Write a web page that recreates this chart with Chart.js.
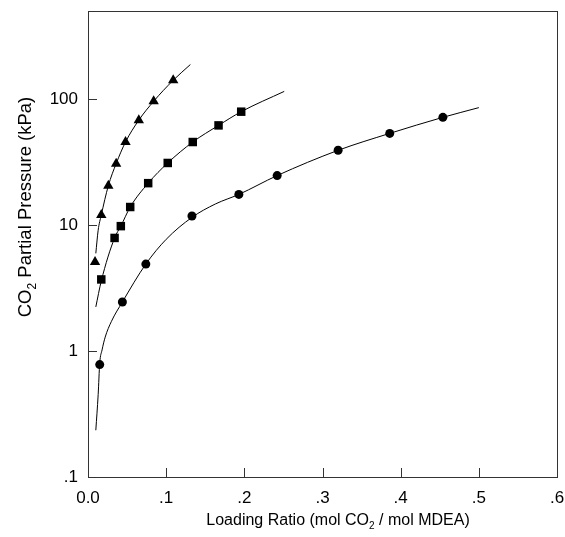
<!DOCTYPE html>
<html>
<head>
<meta charset="utf-8">
<script src="https://cdn.jsdelivr.net/npm/chart.js@4/dist/chart.umd.min.js"></script>
<style>
  html, body { margin: 0; padding: 0; background: #fff; }
  #wrap { width: 565px; height: 537px; }
</style>
</head>
<body>
<div id="wrap"><canvas id="vleChart"></canvas></div>
<script>
// Measured points (loading ratio, kPa)
const triX = [0.009, 0.017, 0.026, 0.036, 0.048, 0.065, 0.084, 0.109];
const triY = [5.1, 12.0, 20.5, 30.7, 45.6, 68, 96, 141];

const sqX = [0.017, 0.034, 0.042, 0.054, 0.077, 0.102, 0.134, 0.167, 0.196];
const sqY = [3.7, 7.9, 9.8, 13.9, 21.5, 31.1, 45.6, 61.8, 79.4];

const cirX = [0.015, 0.044, 0.074, 0.133, 0.193, 0.242, 0.320, 0.386, 0.454];
const cirY = [0.78, 2.45, 4.9, 11.8, 17.5, 24.7, 39.2, 53.4, 71.6];

// Fitted curves
const triFitX = [0.010, 0.013, 0.017, 0.026, 0.036, 0.048, 0.065, 0.084, 0.109, 0.131];
const triFitY = [5.96, 9.1, 12.0, 20.5, 30.7, 45.6, 68, 96, 141, 188];

const sqFitX = [0.010, 0.017, 0.034, 0.042, 0.054, 0.077, 0.102, 0.134, 0.167, 0.196, 0.251];
const sqFitY = [2.24, 3.6, 7.9, 9.8, 13.9, 21.5, 31.1, 45.6, 61.8, 79.4, 115];

const cirFitX = [0.010, 0.013, 0.015, 0.018, 0.022, 0.030, 0.044, 0.074, 0.100, 0.133, 0.163, 0.193, 0.242, 0.320, 0.386, 0.454, 0.500];
const cirFitY = [0.235, 0.45, 0.80, 1.02, 1.29, 1.72, 2.45, 4.9, 7.7, 11.5, 14.7, 17.5, 24.7, 39.2, 53.4, 71.6, 85.5];

// Axis ticks
const xTicks = [0, 0.1, 0.2, 0.3, 0.4, 0.5, 0.6];
const yTicks = [0.1, 1, 10, 100];

const FONT = '"Liberation Sans", Arial, sans-serif';
const INK = '#333';

function toPoints(xs, ys) {
    return xs.map((x, i) => ({ x: x, y: ys[i] }));
}

function fitLine(xs, ys) {
    return {
        data: toPoints(xs, ys),
        showLine: true,
        borderColor: '#000',
        borderWidth: 1,
        pointRadius: 0,
        cubicInterpolationMode: 'monotone'
    };
}

function markers(xs, ys, style, r) {
    return {
        data: toPoints(xs, ys),
        showLine: false,
        pointStyle: style,
        pointRadius: r,
        backgroundColor: '#000',
        borderColor: '#000',
        borderWidth: 0
    };
}

// draw text with a subscript "2" after CO
function drawSubText(ctx, size, before, sub, after, cx, baseline) {
    const big = size + 'px ' + FONT;
    const small = Math.round(size * 0.65) + 'px ' + FONT;
    ctx.font = big;
    const w1 = ctx.measureText(before).width;
    const w3 = ctx.measureText(after).width;
    ctx.font = small;
    const w2 = ctx.measureText(sub).width;
    let x = cx - (w1 + w2 + w3) / 2;
    ctx.textAlign = 'left';
    ctx.textBaseline = 'alphabetic';
    ctx.font = big;
    ctx.fillText(before, x, baseline);
    x += w1;
    ctx.font = small;
    ctx.fillText(sub, x, baseline + size * 0.25);
    x += w2;
    ctx.font = big;
    ctx.fillText(after, x, baseline);
}

// Frame, inward ticks and axis titles
const framePlugin = {
    id: 'frame',
    afterDraw(chart) {
        const ctx = chart.ctx;
        const a = chart.chartArea;
        const xs = chart.scales.x;
        const ys = chart.scales.y;
        ctx.save();
        ctx.strokeStyle = INK;
        ctx.lineWidth = 1;
        ctx.strokeRect(a.left + 0.5, a.top + 0.5, a.right - a.left, a.bottom - a.top);

        ctx.beginPath();
        xTicks.forEach(v => {
            const px = Math.round(xs.getPixelForValue(v)) + 0.5;
            ctx.moveTo(px, a.bottom);
            ctx.lineTo(px, a.bottom - 9);
        });
        yTicks.forEach(v => {
            const py = Math.round(ys.getPixelForValue(v)) + 0.5;
            ctx.moveTo(a.left, py);
            ctx.lineTo(a.left + 9, py);
        });
        ctx.stroke();

        ctx.fillStyle = '#000';
        drawSubText(ctx, 16, 'Loading Ratio (mol CO', '2', ' / mol MDEA)', 338, 525);

        ctx.translate(31, 207);
        ctx.rotate(-Math.PI / 2);
        drawSubText(ctx, 18.5, 'CO', '2', ' Partial Pressure (kPa)', 0, 0);
        ctx.restore();
    }
};

const ctx = document.getElementById('vleChart').getContext('2d');

new Chart(ctx, {
    type: 'scatter',
    data: {
        datasets: [
            fitLine(triFitX, triFitY),
            fitLine(sqFitX, sqFitY),
            fitLine(cirFitX, cirFitY),
            markers(triX, triY, 'triangle', 6),
            markers(sqX, sqY, 'rect', 6),
            markers(cirX, cirY, 'circle', 4.5)
        ]
    },
    options: {
        responsive: true,
        maintainAspectRatio: false,
        animation: false,
        layout: { padding: { top: 11, right: 8, left: 0, bottom: 0 } },
        plugins: {
            legend: { display: false },
            tooltip: { enabled: false }
        },
        scales: {
            x: {
                type: 'linear',
                min: 0,
                max: 0.6,
                afterBuildTicks: s => { s.ticks = xTicks.map(v => ({ value: v })); },
                afterFit: s => {
                    s.height = 60;
                    s.paddingLeft = 0;
                    s.paddingRight = 0;
                },
                grid: { display: false, drawTicks: false },
                border: { display: false },
                ticks: {
                    color: '#000',
                    padding: 11,
                    maxRotation: 0,
                    font: { size: 17, family: FONT },
                    callback: v => v === 0 ? '0.0' : '.' + Math.round(v * 10)
                }
            },
            y: {
                type: 'logarithmic',
                min: 0.1,
                max: 500,
                afterBuildTicks: s => { s.ticks = yTicks.map(v => ({ value: v })); },
                afterFit: s => {
                    s.width = 88;
                    s.paddingTop = 0;
                    s.paddingBottom = 0;
                },
                grid: { display: false, drawTicks: false },
                border: { display: false },
                ticks: {
                    color: '#000',
                    padding: 10,
                    font: { size: 17, family: FONT },
                    callback: v => v === 0.1 ? '.1' : String(v)
                }
            }
        }
    },
    plugins: [framePlugin]
});
</script>
</body>
</html>
